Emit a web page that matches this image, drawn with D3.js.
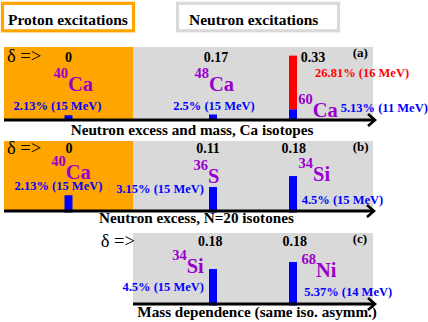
<!DOCTYPE html>
<html>
<head>
<meta charset="utf-8">
<script src="https://cdnjs.cloudflare.com/ajax/libs/d3/7.8.5/d3.min.js"></script>
<style>
body { margin: 0; background: #fff; }
svg text { font-family: "Liberation Serif", "Times New Roman", Times, "DejaVu Serif", serif; font-weight: bold; }
</style>
</head>
<body>
<div id="chart"></div>
<script>
// (a) Ca isotopes
var elementsA = ["Ca", "Ca", "Ca"];
var massesA = [40, 48, 60];
var deltasA = ["0", "0.17", "0.33"];
var strengthA = [2.13, 2.5, 5.13];
var energyA = [15, 15, 11];
var slotsA = [0, 1, 2];
// upper (red) peak of 60Ca
var highSlotA = [2];
var highStrengthA = [26.81];
var highEnergyA = [16];

// (b) N=20 isotones
var elementsB = ["Ca", "S", "Si"];
var massesB = [40, 36, 34];
var deltasB = ["0", "0.11", "0.18"];
var strengthB = [2.13, 3.15, 4.5];
var energyB = [15, 15, 15];
var slotsB = [0, 1, 2];

// (c) same isospin asymmetry
var elementsC = ["Si", "Ni"];
var massesC = [34, 68];
var deltasC = ["0.18", "0.18"];
var strengthC = [4.5, 5.37];
var energyC = [15, 14];
var slotsC = [1, 2];

var panelIds = ["(a)", "(b)", "(c)"];
var captions = ["Neutron excess and mass, Ca isotopes", "Neutron excess, N=20 isotones", "Mass dependence (same iso. asymm.)"];
var headers = ["Proton excitations", "Neutron excitations"];

var orange = "#ffa500", grey = "#d9d9d9", purple = "#9900cc", blue = "#0000ff", red = "#ff0000";
var serif = "'Liberation Serif', 'Times New Roman', Times, 'DejaVu Serif', serif";

function rows(el, ms, dl, st, en, sl) {
    return el.map(function (e, i) {
        return { element: e, mass: ms[i], delta: dl[i], strength: st[i], energy: en[i], slot: sl[i] };
    });
}

var panels = [
    { id: panelIds[0], caption: captions[0], bars: rows(elementsA, massesA, deltasA, strengthA, energyA, slotsA),
      high: highSlotA.map(function (s, i) { return { slot: s, strength: highStrengthA[i], energy: highEnergyA[i] }; }) },
    { id: panelIds[1], caption: captions[1], bars: rows(elementsB, massesB, deltasB, strengthB, energyB, slotsB), high: [] },
    { id: panelIds[2], caption: captions[2], bars: rows(elementsC, massesC, deltasC, strengthC, energyC, slotsC), high: [] }
];

// layout of each panel (pixels)
var geom = [
    { top: 47, axis: 120, base: 119.5, ppp: 2, proton: true, lineLeft: 4, tip: 375, deltaSignX: 7, deltaDy: -58.5, captionX: 70.7, captionY: 135,
      labels: [
        { dDx: 0, dAnchor: "middle", isoDx: -0.5, isoDy: -29, pDx: -11, pDy: -10, pAnchor: "middle" },
        { dDx: 3, dAnchor: "middle", isoDx: -4, isoDy: -29.3, pDx: 1, pDy: -10, pAnchor: "middle" },
        { dDx: 7.7, dAnchor: "start", isoDx: 19.7, isoDy: -3.5, pDx: 47.7, pDy: -8.3, pAnchor: "start" }
      ], highLabel: { dx: 22, dy: -43.3 } },
    { top: 141, axis: 211, base: 212.5, ppp: 8.1, proton: true, lineLeft: 4, tip: 374, deltaSignX: 7, deltaDy: -57.7, captionX: 99, captionY: 223.3,
      labels: [
        { dDx: 0.5, dAnchor: "middle", isoDx: -2.8, isoDy: -31.7, pDx: -10, pDy: -21, pAnchor: "middle" },
        { dDx: -5, dAnchor: "middle", isoDx: -5, isoDy: -28, pDx: -9, pDy: -17.7, pAnchor: "end" },
        { dDx: 0.7, dAnchor: "middle", isoDx: 20, isoDy: -30, pDx: 8.7, pDy: -7, pAnchor: "start" }
      ] },
    { top: 233, axis: 304, base: 305.5, ppp: 8.1, proton: false, lineLeft: 133, tip: 375, deltaSignX: 100.7, deltaDy: -58, captionX: 137.3, captionY: 316.7,
      labels: [
        { dDx: -2.7, dAnchor: "middle", isoDx: -26.3, isoDy: -30.7, pDx: -9, pDy: -13, pAnchor: "end" },
        { dDx: 1.7, dAnchor: "middle", isoDx: 23, isoDy: -27.3, pDx: 11.3, pDy: -8, pAnchor: "start" }
      ] }
];

var protonLeft = 4, split = 133, neutronRight = 373, barWidth = 8;

// slot 0 sits in the middle of the proton block, slots 1 and 2 on the thirds of the neutron block
var xP = d3.scaleLinear().domain([0, 1]).range([protonLeft, split]);
var xN = d3.scaleLinear().domain([0, 3]).range([split, neutronRight]);
function xSlot(s) { return s === 0 ? xP(0.5) : xN(s); }

var svg = d3.select("#chart").append("svg")
    .attr("width", 428)
    .attr("height", 322)
    .attr("font-family", serif)
    .attr("font-weight", "bold");

// header boxes
var headBoxes = [{ x: 2.5, w: 131, color: orange, tx: 8 }, { x: 177.5, w: 161, color: grey, tx: 189 }];
headers.forEach(function (h, i) {
    var b = headBoxes[i];
    svg.append("rect")
        .attr("x", b.x).attr("y", 3.3).attr("width", b.w).attr("height", 27.5)
        .attr("fill", "#fff").attr("stroke", b.color).attr("stroke-width", 3.2);
    svg.append("text")
        .attr("x", b.tx).attr("y", 25)
        .style("font-size", "15.5px")
        .text(h);
});

panels.forEach(function (p, k) {
    var g = geom[k];
    var y = d3.scaleLinear().domain([0, 10]).range([g.base, g.base - 10 * g.ppp]);
    var panel = svg.append("g");

    if (g.proton) {
        panel.append("rect").attr("x", protonLeft).attr("y", g.top)
            .attr("width", split - protonLeft).attr("height", g.axis - g.top).attr("fill", orange);
    }
    panel.append("rect").attr("x", split).attr("y", g.top)
        .attr("width", neutronRight - split).attr("height", g.axis - g.top).attr("fill", grey);

    // bars
    panel.selectAll(".bar")
        .data(p.bars)
        .enter().append("rect")
        .attr("class", "bar")
        .attr("x", function (d) { return xSlot(d.slot) - barWidth / 2; })
        .attr("width", barWidth)
        .attr("y", function (d) { return y(d.strength); })
        .attr("height", function (d) { return y(0) - y(d.strength); })
        .attr("fill", blue);

    // upper peak stacked on the low one
    panel.selectAll(".high")
        .data(p.high)
        .enter().append("rect")
        .attr("class", "high")
        .attr("x", function (d) { return xSlot(d.slot) - barWidth / 2; })
        .attr("width", barWidth)
        .attr("y", function (d) {
            var low = p.bars.filter(function (b) { return b.slot === d.slot; })[0].strength;
            return y(low + d.strength);
        })
        .attr("height", function (d) { return y(0) - y(d.strength); })
        .attr("fill", red);

    // axis with arrow
    panel.append("line")
        .attr("x1", g.lineLeft).attr("x2", g.tip - 1)
        .attr("y1", g.axis).attr("y2", g.axis)
        .attr("stroke", "#000").attr("stroke-width", 3);
    panel.append("path")
        .attr("d", "M" + (g.tip - 7) + "," + (g.axis - 6) + "L" + g.tip + "," + g.axis + "L" + (g.tip - 7) + "," + (g.axis + 6))
        .attr("fill", "none").attr("stroke", "#000").attr("stroke-width", 2.6);

    panel.append("text")
        .attr("x", g.deltaSignX).attr("y", g.axis + g.deltaDy + 0.5)
        .style("font-size", "18.5px").style("font-weight", "normal")
        .text("\u03b4 =>");

    panel.append("text")
        .attr("x", 352.7).attr("y", g.top + 9.5)
        .style("font-size", "13px")
        .text(p.id);

    panel.append("text")
        .attr("x", g.captionX).attr("y", g.captionY)
        .style("font-size", "15.2px")
        .text(p.caption);

    p.bars.forEach(function (d, i) {
        var L = g.labels[i], bx = xSlot(d.slot);
        panel.append("text")
            .attr("x", bx + L.dDx).attr("y", g.axis + g.deltaDy)
            .attr("text-anchor", L.dAnchor)
            .style("font-size", "14px")
            .text(d.delta);
        panel.append("text")
            .attr("x", bx + L.isoDx).attr("y", g.axis + L.isoDy - 13)
            .attr("text-anchor", "end")
            .attr("fill", purple)
            .style("font-size", "14.5px")
            .text(d.mass);
        panel.append("text")
            .attr("x", bx + L.isoDx).attr("y", g.axis + L.isoDy)
            .attr("fill", purple)
            .style("font-size", "20.5px")
            .text(d.element);
        panel.append("text")
            .attr("x", bx + L.pDx).attr("y", g.axis + L.pDy)
            .attr("text-anchor", L.pAnchor)
            .attr("fill", blue)
            .style("font-size", "12.5px")
            .text(d.strength + "% (" + d.energy + " MeV)");
    });

    p.high.forEach(function (d) {
        panel.append("text")
            .attr("x", xSlot(d.slot) + g.highLabel.dx).attr("y", g.axis + g.highLabel.dy)
            .attr("fill", red)
            .style("font-size", "12.5px")
            .text(d.strength + "% (" + d.energy + " MeV)");
    });
});
</script>
</body>
</html>
